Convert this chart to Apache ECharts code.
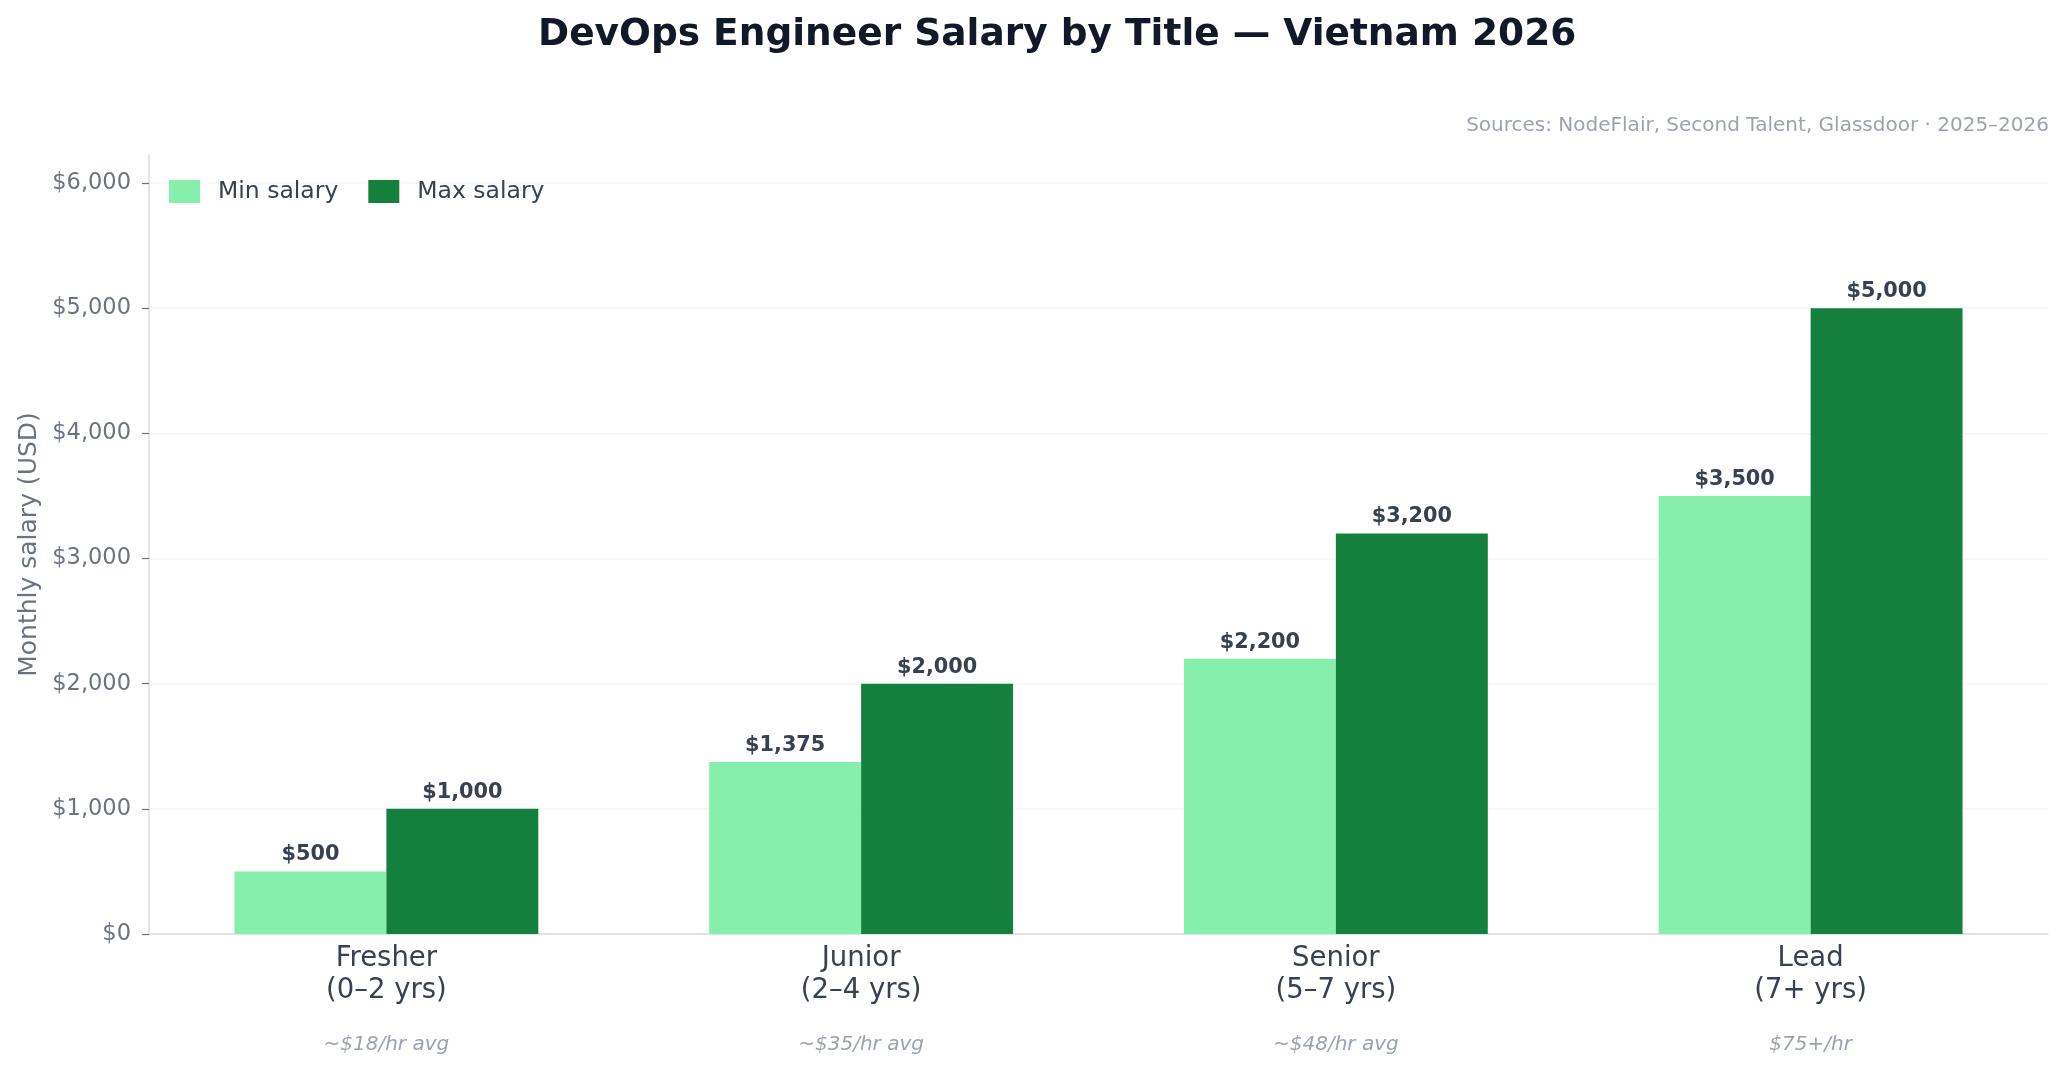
<!DOCTYPE html>
<html>
<head>
<meta charset="utf-8">
<script src="https://cdn.jsdelivr.net/npm/echarts@6/dist/echarts.min.js"></script>
<style>
  html, body { margin: 0; padding: 0; background: #ffffff; }
  #chart { width: 2067px; height: 1070px; }
</style>
</head>
<body>
<div id="chart"></div>
<script>
// 数据
const titles = ['Fresher', 'Junior', 'Senior', 'Lead'];
const yearRanges = ['(0–2 yrs)', '(2–4 yrs)', '(5–7 yrs)', '(7+ yrs)'];
const hourlyNotes = ['~$18/hr avg', '~$35/hr avg', '~$48/hr avg', '$75+/hr'];
const minSalary = [500, 1375, 2200, 3500];
const maxSalary = [1000, 2000, 3200, 5000];
const yTicks = [0, 1000, 2000, 3000, 4000, 5000, 6000];

const FONT = '"DejaVu Sans", sans-serif';
const colors = {
  min: '#86efac',
  max: '#15803d',
  title: '#111827',
  text: '#374151',
  muted: '#6b7280',
  faint: '#9ca3af',
  spine: '#dcdde0',
  grid: '#f3f4f6',
};

const fmtUsd = v => '$' + Number(v).toLocaleString('en-US');

const chart = echarts.init(document.getElementById('chart'));

const valueLabel = {
  show: true,
  position: 'top',
  distance: 6,
  fontFamily: FONT,
  fontSize: 20.8,
  fontWeight: 'bold',
  color: colors.text,
  formatter: p => fmtUsd(p.value),
};

const option = {
  backgroundColor: '#ffffff',
  animation: false,
  textStyle: { fontFamily: FONT },
  title: [
    {
      text: 'DevOps Engineer Salary by Title — Vietnam 2026',
      left: 538,
      top: 13,
      padding: 0,
      textStyle: {
        fontFamily: FONT,
        fontSize: 37.5,
        fontWeight: 'bold',
        color: colors.title,
        lineHeight: 44,
      },
    },
    {
      text: 'Sources: NodeFlair, Second Talent, Glassdoor · 2025–2026',
      right: 18,
      top: 115,
      padding: 0,
      textStyle: {
        fontFamily: FONT,
        fontSize: 20,
        fontWeight: 'normal',
        color: colors.faint,
        lineHeight: 22,
      },
    },
  ],
  legend: {
    left: 169,
    top: 179.5,
    padding: 0,
    itemWidth: 31,
    itemHeight: 23,
    itemGap: 30,
    icon: 'rect',
    data: ['Min salary', 'Max salary'],
    textStyle: {
      fontFamily: FONT,
      fontSize: 23.5,
      color: colors.text,
      padding: [0, 0, 0, 13],
    },
  },
  grid: [
    { left: 149, right: 19, top: 183, bottom: 136 },
    // 仅用于绘制延伸到 $6,000 之上的左侧坐标轴线和轴标题
    { left: 149, right: 19, top: 155, bottom: 136 },
  ],
  xAxis: [
    {
      type: 'category',
      gridIndex: 0,
      data: titles,
      axisTick: { show: false },
      axisLine: { lineStyle: { color: colors.spine, width: 1.5 } },
      axisLabel: {
        margin: 9,
        interval: 0,
        formatter: (value, idx) =>
          `{a|${value}}\n{a|${yearRanges[idx]}}\n{b|${hourlyNotes[idx]}}`,
        rich: {
          a: { fontFamily: FONT, fontSize: 27.5, color: colors.text, lineHeight: 32 },
          b: { fontFamily: FONT, fontSize: 20, fontStyle: 'italic', color: colors.faint, lineHeight: 75 },
        },
      },
    },
    { type: 'category', gridIndex: 1, show: false, data: titles },
  ],
  yAxis: [
    {
      type: 'value',
      gridIndex: 0,
      min: yTicks[0],
      max: yTicks[yTicks.length - 1],
      interval: 1000,
      axisLine: { show: false },
      axisTick: { show: true, length: 7, lineStyle: { color: colors.muted, width: 1.2 } },
      axisLabel: {
        margin: 18,
        fontFamily: FONT,
        fontSize: 22.5,
        color: colors.muted,
        formatter: v => fmtUsd(v),
      },
      splitLine: { lineStyle: { color: colors.grid, width: 1.5 } },
    },
    {
      type: 'value',
      gridIndex: 1,
      min: 0,
      max: 1,
      name: 'Monthly salary (USD)',
      nameLocation: 'middle',
      nameGap: 107,
      nameTextStyle: { fontFamily: FONT, fontSize: 25, color: colors.muted },
      axisLine: { show: true, lineStyle: { color: colors.spine, width: 1.5 } },
      axisTick: { show: false },
      axisLabel: { show: false },
      splitLine: { show: false },
    },
  ],
  series: [
    {
      name: 'Min salary',
      type: 'bar',
      data: minSalary,
      barWidth: '32%',
      barGap: '0%',
      itemStyle: { color: colors.min },
      label: valueLabel,
    },
    {
      name: 'Max salary',
      type: 'bar',
      data: maxSalary,
      barWidth: '32%',
      barGap: '0%',
      itemStyle: { color: colors.max },
      label: valueLabel,
    },
  ],
};

chart.setOption(option);
</script>
</body>
</html>
